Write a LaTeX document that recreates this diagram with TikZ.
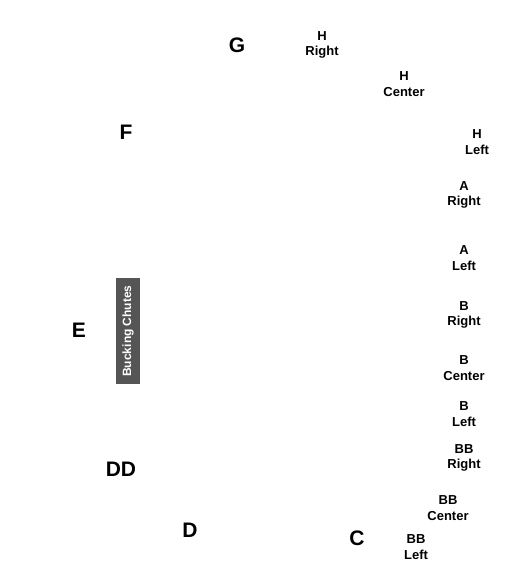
\documentclass[tikz,border=0pt]{standalone}
\usepackage{fontspec}
\setmainfont{Liberation Sans}
\usepackage{tikz}
\usetikzlibrary{positioning}
\usepackage{xcolor}
\definecolor{chutecolor}{RGB}{85,85,85}

\begin{document}
\begin{tikzpicture}[
    x=1pt, y=-1pt,
    section/.style={
        align=center, inner sep=0pt,
        font=\fontsize{13}{15.5}\selectfont\bfseries
    },
    letter/.style={
        inner sep=0pt,
        font=\fontsize{21}{25}\selectfont\bfseries
    },
    chute/.style={
        rectangle, fill=chutecolor, text=white,
        minimum width=106pt, minimum height=24pt,
        inner sep=0pt, rotate=90,
        font=\fontsize{12}{14}\selectfont\bfseries
    }
]
\useasboundingbox (0,0) rectangle (525,585);

% Big section letters
\node[letter] (g) at (237, 45) {G};
\node[letter] (f) at (126, 132) {F};
\node[letter] (e) at (79, 330) {E};
\node[letter] (dd) at (121, 469) {DD};
\node[letter] (d) at (190, 530) {D};
\node[letter] (c) at (357, 538) {C};

% H sections
\node[section] (hright) at (322, 45) {H\\Right};
\node[section] (hcenter) at (404, 84) {H\\Center};
\node[section] (hleft) at (477, 142) {H\\Left};

% A and B sections
\node[section] (aright) at (464, 195) {A\\Right};
\node[section] (aleft) at (464, 258) {A\\Left};
\node[section] (bright) at (464, 315) {B\\Right};
\node[section] (bcenter) at (464, 368) {B\\Center};
\node[section] (bleft) at (464, 414) {B\\Left};

% BB sections
\node[section] (bbright) at (464, 458) {BB\\Right};
\node[section] (bbcenter) at (448, 508) {BB\\Center};
\node[section] (bbleft) at (416, 547) {BB\\Left};

% Bucking chutes
\node[chute] (chutes) at (128, 331) {Bucking Chutes};

\end{tikzpicture}
\end{document}
